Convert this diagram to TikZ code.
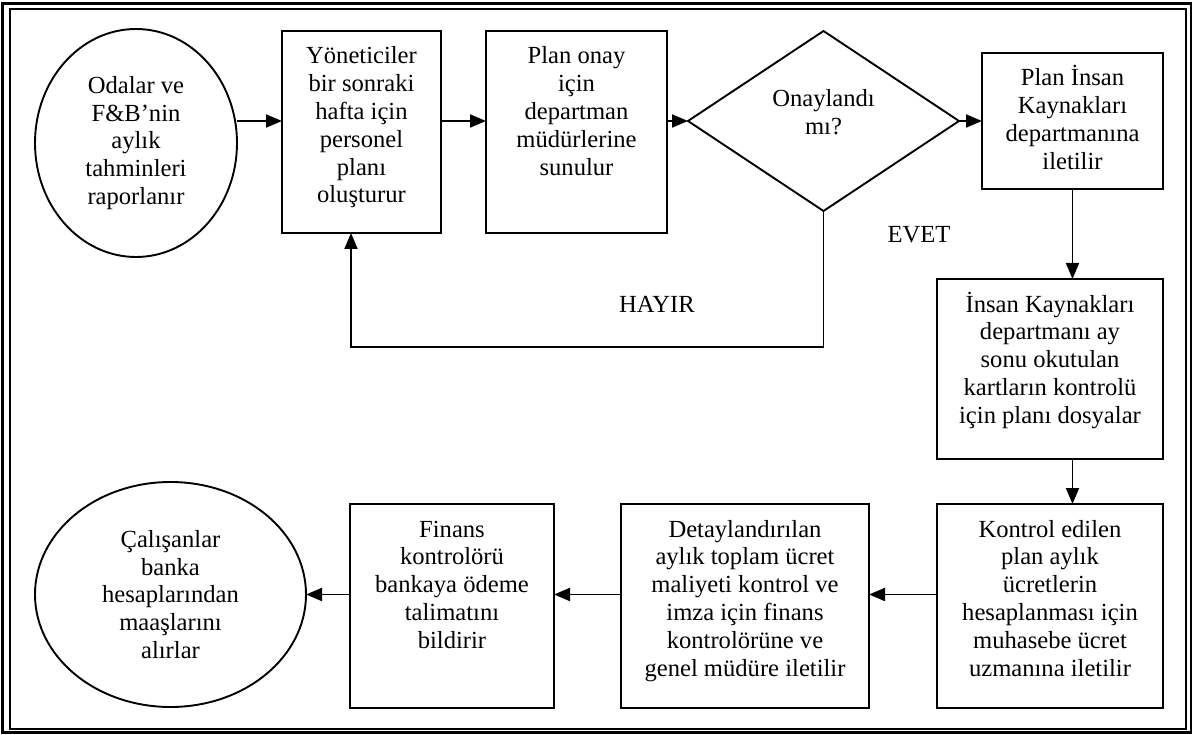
\documentclass[tikz,border=0pt]{standalone}
\usepackage{fontspec}
\setmainfont{Liberation Serif}
\usetikzlibrary{shapes.geometric,arrows.meta}

% text block of a process box: fixed size, lines hung from the top edge
\newcommand{\boxtext}[3]{\parbox[c][#2][t]{#1}{\centering\rule{0pt}{33pt}#3}}

\begin{document}
\begin{tikzpicture}[x=1pt,y=-1pt,
  every node/.style={font=\fontsize{24.6}{27.8}\selectfont, inner sep=0pt, outer sep=0pt},
  stepbox/.style={draw, line width=1.9pt, rectangle},
  oval/.style={draw, line width=1.9pt, ellipse, align=center},
  decision/.style={draw, line width=1.9pt, diamond},
  arr/.style={line width=1.9pt, -{Triangle[length=16pt,width=13pt]}},
  tag/.style={align=center}
]
\useasboundingbox (0,0) rectangle (1197,735);
\fill[white] (0,0) rectangle (1197,735);

% double frame
\draw[line width=2.8pt] (2.5,3.5) rectangle (1191,732.5);
\draw[line width=2pt] (10,9.5) rectangle (1185.5,729);

% top row
\node[oval, minimum width=202pt, minimum height=228pt] (e1) at (136,143)
  {Odalar ve\\F\&B’nin\\aylık\\tahminleri\\raporlanır};
\node[stepbox] (b2) at (361.5,132)
  {\boxtext{159pt}{202pt}{Yöneticiler\\bir sonraki\\hafta için\\personel\\planı\\oluşturur}};
\node[stepbox] (b3) at (576.5,132)
  {\boxtext{181pt}{202pt}{Plan onay\\için\\departman\\müdürlerine\\sunulur}};
\node[decision, minimum width=271pt, minimum height=180pt] (d) at (823.5,121) {};
\node[tag, yshift=9pt] (dt) at (d) {Onaylandı\\mı?};
\node[stepbox] (b4) at (1072.5,121)
  {\boxtext{181pt}{136pt}{Plan İnsan\\Kaynakları\\departmanına\\iletilir}};

% right column
\node[stepbox] (b5) at (1050,369)
  {\boxtext{226pt}{180pt}{İnsan Kaynakları\\departmanı ay\\sonu okutulan\\kartların kontrolü\\için planı dosyalar}};

% bottom row
\node[stepbox] (b6) at (1050,606)
  {\boxtext{226pt}{204pt}{Kontrol edilen\\plan aylık\\ücretlerin\\hesaplanması için\\muhasebe ücret\\uzmanına iletilir}};
\node[stepbox] (b7) at (745,606)
  {\boxtext{248pt}{204pt}{Detaylandırılan\\aylık toplam ücret\\maliyeti kontrol ve\\imza için finans\\kontrolörüne ve\\genel müdüre iletilir}};
\node[stepbox] (b8) at (452,606)
  {\boxtext{204pt}{204pt}{Finans\\kontrolörü\\bankaya ödeme\\talimatını\\bildirir}};
\node[oval, minimum width=271pt, minimum height=225pt] (e2) at (170.5,594.5)
  {Çalışanlar\\banka\\hesaplarından\\maaşlarını\\alırlar};

% branch labels
\node[tag] (evet) at (919,235) {EVET};
\node[tag] (hayir) at (657,304) {HAYIR};

% connectors
\draw[arr] (e1.east |- d) -- (b2.west |- d);
\draw[arr] (b2.east |- d) -- (b3.west |- d);
\draw[arr] (b3.east |- d) -- (d.west);
\draw[arr] (d.east) -- (b4.west);
\draw[arr] (b4.south) -- (b4.south |- b5.north);
\draw[arr] (b5.south -| b4.south) -- (b6.north -| b4.south);
\draw[arr] (b6.west |- e2) -- (b7.east |- e2);
\draw[arr] (b7.west |- e2) -- (b8.east |- e2);
\draw[arr] (b8.west |- e2) -- (e2.east);
\coordinate (loop) at (351,347);
\draw[arr] (d.south) |- (loop) -- (loop |- b2.south);
\end{tikzpicture}
\end{document}
